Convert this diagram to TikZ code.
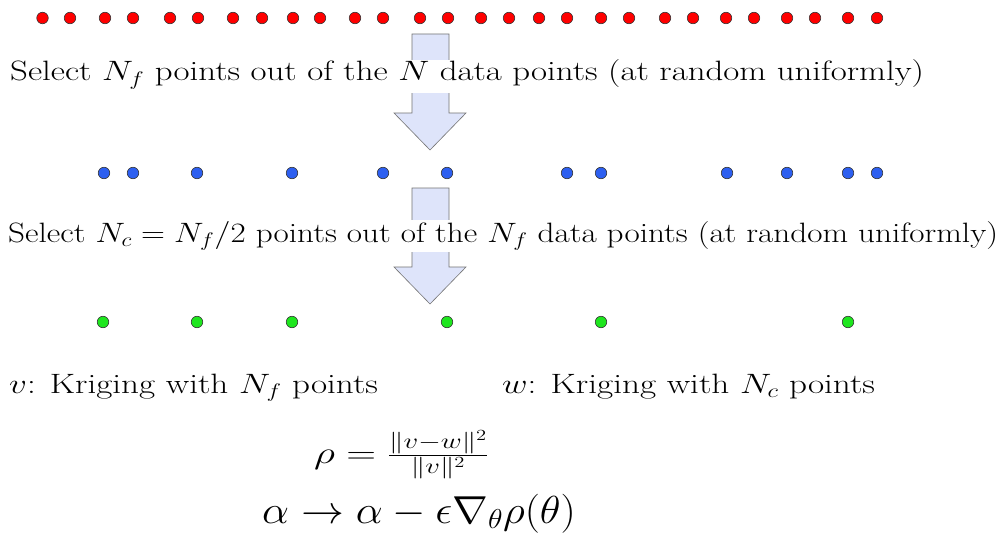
\RequirePackage{fix-cm}
\documentclass[tikz,border=0pt]{standalone}
\usepackage{amsmath}
\definecolor{dotred}{RGB}{255,0,0}
\definecolor{dotblue}{RGB}{45,95,240}
\definecolor{dotgreen}{RGB}{30,230,30}
\definecolor{arrowfill}{RGB}{222,228,250}
\begin{document}
\begin{tikzpicture}[x=1pt,y=-1pt,
  dot/.style={circle,draw=black!80,line width=0.6pt,minimum size=11.5pt,inner sep=0pt},
  lbl/.style={font=\fontsize{28}{32}\selectfont,inner sep=0pt,anchor=base west},
  cover/.style={lbl,fill=white,inner xsep=3pt,inner ysep=0pt},
  blockarrow/.style={fill=arrowfill,draw=black!55,line width=0.6pt}]
\useasboundingbox (0,0) rectangle (1007,543);
\fill[white] (0,0) rectangle (1007,543);
% block arrows
\foreach \t in {34,188}
  \draw[blockarrow] (412,\t) -- ++(37,0) -- ++(0,79) -- ++(17,0) -- ++(-36,37) -- ++(-36,-37) -- ++(18,0) -- cycle;
% dots
\foreach \x [count=\i] in {42.5,70,105,133,170,198,233,262,293,320,355,383,420,448,481,509,539,567,601,629,665,693,726,754,787,815,848,877}
  \node[dot,fill=dotred] (r\i) at (\x,18) {};
\foreach \x [count=\i] in {104,133,197,292,383,447,567,601,727,787,848,877}
  \node[dot,fill=dotblue] (b\i) at (\x,173) {};
\foreach \x [count=\i] in {103,197,292,447,601,848}
  \node[dot,fill=dotgreen] (g\i) at (\x,322) {};
% texts
\node[cover,text height=21pt,text depth=12pt] (sel1) at (7,81) {\scalebox{1.245}[1]{Select $N_f$ points out of the $N$ data points (at random uniformly)}};
\node[cover,text height=22pt,text depth=10pt] (sel2) at (5,242) {\scalebox{1.184}[1]{Select $N_c = N_f/2$ points out of the $N_f$ data points (at random uniformly)}};
\node[lbl] (kv) at (9,393) {\scalebox{1.253}[1]{$v$: Kriging with $N_f$ points}};
\node[lbl] (kw) at (502,393) {\scalebox{1.255}[1]{$w$: Kriging with $N_c$ points}};
\node[lbl,font=\fontsize{31}{36}\selectfont] (rho) at (314,463) {\scalebox{1.33}[1]{$\rho = \frac{\|v-w\|^2}{\|v\|^2}$}};
\node[lbl,font=\fontsize{39}{46}\selectfont] (upd) at (262,523) {\scalebox{1.1}[1]{$\alpha \to \alpha - \epsilon \nabla_\theta \rho(\theta)$}};
\end{tikzpicture}
\end{document}
